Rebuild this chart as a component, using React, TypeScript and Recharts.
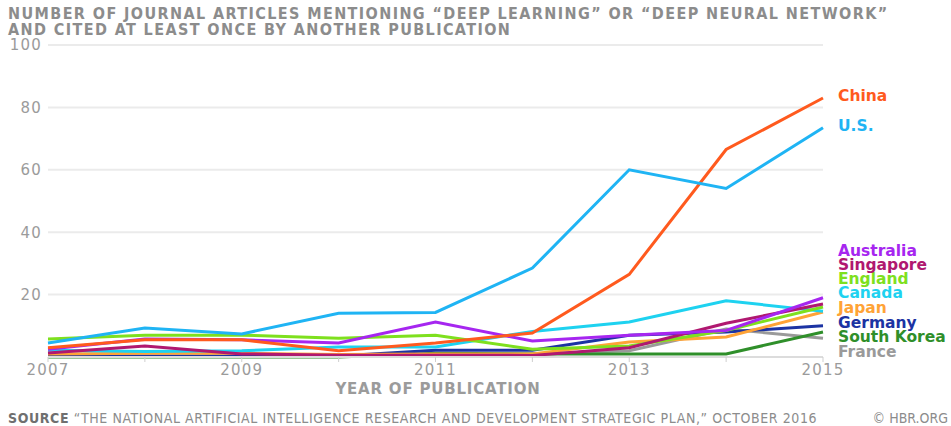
import { LineChart, Line, XAxis, YAxis, CartesianGrid } from "recharts";

const years = [2007, 2008, 2009, 2010, 2011, 2012, 2013, 2014, 2015];
const yTicks = [0, 20, 40, 60, 80, 100];
const xLabelYears = [2007, 2009, 2011, 2013, 2015];

const china = [3, 5.5, 5.5, 2, 4.5, 7.7, 26.5, 66.5, 83];
const us = [4.5, 9.3, 7.4, 14, 14.3, 28.5, 60, 54, 73.5];
const australia = [2.5, 5.8, 5.5, 4.5, 11.2, 5.1, 7, 8.5, 19];
const singapore = [1.3, 3.5, 1, 0.6, 0.6, 0.5, 3, 10.8, 17];
const england = [5.8, 7, 7, 6, 7, 2.5, 3.5, 8.5, 16];
const canada = [2.2, 1.8, 2, 3.2, 3.2, 8.2, 11.2, 18, 14.7];
const japan = [1, 1.2, 1.2, 0.8, 1, 1, 4.8, 6.4, 14.4];
const germany = [0.3, 0.3, 0.3, 0.3, 2.2, 2.2, 7, 8, 10];
const southKorea = [0, 0, 0, 0, 1.2, 1, 1, 1, 8];
const france = [0.2, 0.2, 0.2, 0.2, 0.5, 1, 2, 9, 6];

const series = [
  { key: "France", values: france, color: "#9a9a9a", labelY: 352 },
  { key: "South Korea", values: southKorea, color: "#2f8f2a", labelY: 337 },
  { key: "Germany", values: germany, color: "#1c33a3", labelY: 323 },
  { key: "Japan", values: japan, color: "#ffa336", labelY: 308 },
  { key: "Canada", values: canada, color: "#1ed2f0", labelY: 293 },
  { key: "England", values: england, color: "#7ee01e", labelY: 279 },
  { key: "Singapore", values: singapore, color: "#b01870", labelY: 265 },
  { key: "Australia", values: australia, color: "#a626f0", labelY: 251 },
  { key: "China", values: china, color: "#ff5a1e", labelY: 96 },
  { key: "U.S.", values: us, color: "#1fb4f4", labelY: 126 },
];

const data = years.map((year, i) => {
  const row: Record<string, number> = { year };
  series.forEach((s) => (row[s.key] = s.values[i]));
  return row;
});

const tickFont = { fontFamily: "'DejaVu Sans'", fontSize: 15, fill: "#9b9b9b", letterSpacing: 1.2 };

export default function App() {
  return (
    <div style={{ position: "relative", width: 951, height: 426, background: "#fff", overflow: "hidden" }}>
      <style>{`body{margin:0}`}</style>
      {/* Title */}
      <div
        style={{
          position: "absolute",
          left: 8,
          top: 6,
          fontFamily: "'DejaVu Sans Condensed', 'DejaVu Sans'",
          fontStretch: "condensed",
          fontWeight: "bold",
          fontSize: 16,
          letterSpacing: 1.4,
          lineHeight: "16px",
          color: "#8c8c8c",
          whiteSpace: "nowrap",
        }}
      >
        NUMBER OF JOURNAL ARTICLES MENTIONING “DEEP LEARNING” OR “DEEP NEURAL NETWORK”
        <br />
        AND CITED AT LEAST ONCE BY ANOTHER PUBLICATION
      </div>

      <div style={{ position: "absolute", left: 0, top: 0 }}>
        <LineChart width={951} height={426} data={data} margin={{ top: 45, right: 128, bottom: 39, left: 8 }}>
          <CartesianGrid vertical={false} stroke="#ebebeb" strokeWidth={2} />
          <XAxis
            dataKey="year"
            type="number"
            domain={[2007, 2015]}
            ticks={years}
            interval={0}
            height={30}
            tickFormatter={(v) => (xLabelYears.includes(v) ? String(v) : "")}
            tick={tickFont}
            axisLine={{ stroke: "#dcdcdc", strokeWidth: 2 }}
            tickLine={{ stroke: "#cfcfcf" }}
            tickSize={5}
            tickMargin={2}
          />
          <YAxis
            domain={[0, 100]}
            ticks={yTicks}
            width={40}
            tickFormatter={(v) => (v === 0 ? "" : String(v))}
            tick={tickFont}
            axisLine={false}
            tickLine={false}
            tickSize={0}
            tickMargin={6}
          />
          {series.map((s) => (
            <Line
              key={s.key}
              dataKey={s.key}
              type="linear"
              stroke={s.color}
              strokeWidth={3}
              dot={false}
              isAnimationActive={false}
            />
          ))}
        </LineChart>
      </div>

      {/* Series labels */}
      {series.map((s) => (
        <div
          key={s.key}
          style={{
            position: "absolute",
            left: 838,
            top: s.labelY - 7,
            fontFamily: "'DejaVu Sans'",
            fontWeight: "bold",
            fontSize: 15.5,
            lineHeight: "14px",
            color: s.color,
            whiteSpace: "nowrap",
          }}
        >
          {s.key}
        </div>
      ))}

      <div
        style={{
          position: "absolute",
          left: 0,
          width: 876,
          top: 380,
          textAlign: "center",
          fontFamily: "'DejaVu Sans'",
          fontWeight: "bold",
          fontSize: 15,
          letterSpacing: 0.8,
          color: "#9b9b9b",
        }}
      >
        YEAR OF PUBLICATION
      </div>

      <div
        style={{
          position: "absolute",
          left: 8,
          top: 410,
          fontFamily: "'DejaVu Sans Condensed', 'DejaVu Sans'",
          fontStretch: "condensed",
          fontSize: 14,
          letterSpacing: 0.6,
          color: "#8c8c8c",
          whiteSpace: "nowrap",
        }}
      >
        <span style={{ fontWeight: "bold", color: "#6f6f6f" }}>SOURCE</span> “THE NATIONAL ARTIFICIAL INTELLIGENCE
        RESEARCH AND DEVELOPMENT STRATEGIC PLAN,” OCTOBER 2016
      </div>
      <div
        style={{
          position: "absolute",
          right: 3,
          top: 410,
          fontFamily: "'DejaVu Sans Condensed', 'DejaVu Sans'",
          fontStretch: "condensed",
          fontSize: 14,
          color: "#8c8c8c",
        }}
      >
        © HBR.ORG
      </div>
    </div>
  );
}
